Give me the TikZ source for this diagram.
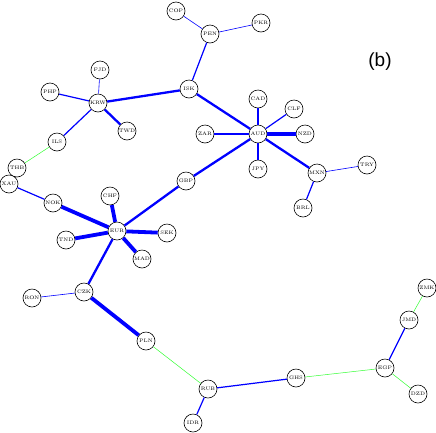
\documentclass[tikz,border=0pt]{standalone}
\usepackage{fontspec}
\newfontfamily\lblfont{Liberation Sans}
\begin{document}
\begin{tikzpicture}[x=1pt,y=-1pt,
  cur/.style={circle,draw=black,line width=0.6pt,fill=white,minimum size=18pt,inner sep=0pt,font=\fontsize{5}{5}\selectfont},
  ea/.style={blue,line width=0.6pt},
  eb/.style={blue,line width=1.2pt},
  ec/.style={blue,line width=2.3pt},
  ed/.style={blue,line width=3.8pt},
  eg/.style={green!80!white,line width=0.5pt}]
\useasboundingbox (0,0) rectangle (436,432);
\node[cur] (COP) at (176,11) {COP};
\node[cur] (PEN) at (210,34) {PEN};
\node[cur] (PKR) at (261,23) {PKR};
\node[cur] (ISK) at (189,89) {ISK};
\node[cur] (FJD) at (100,70) {FJD};
\node[cur] (PHP) at (50,92) {PHP};
\node[cur] (KRW) at (98,103) {KRW};
\node[cur] (TWD) at (127,131) {TWD};
\node[cur] (ILS) at (57,142) {ILS};
\node[cur] (XAU) at (9,184) {XAU};
\node[cur] (THB) at (17,168) {THB};
\node[cur] (NOK) at (53,203) {NOK};
\node[cur] (CHF) at (110,196) {CHF};
\node[cur] (EUR) at (117,231) {EUR};
\node[cur] (SEK) at (167,233) {SEK};
\node[cur] (TND) at (66,240) {TND};
\node[cur] (MAD) at (142,259) {MAD};
\node[cur] (GBP) at (186,181) {GBP};
\node[cur] (CAD) at (258,99) {CAD};
\node[cur] (CLF) at (294,109) {CLF};
\node[cur] (ZAR) at (205,134) {ZAR};
\node[cur] (AUD) at (258,134) {AUD};
\node[cur] (NZD) at (305,134) {NZD};
\node[cur] (JPY) at (258,169) {JPY};
\node[cur] (MXN) at (317,173) {MXN};
\node[cur] (TRY) at (367,165) {TRY};
\node[cur] (BRL) at (303,208) {BRL};
\node[cur] (CZK) at (84,292) {CZK};
\node[cur] (RON) at (32,298) {RON};
\node[cur] (PLN) at (146,341) {PLN};
\node[cur] (RUB) at (208,389) {RUB};
\node[cur] (IDR) at (193,423) {IDR};
\node[cur] (GHS) at (296,378) {GHS};
\node[cur] (EGP) at (385,368) {EGP};
\node[cur] (DZD) at (418,394) {DZD};
\node[cur] (JMD) at (409,320) {JMD};
\node[cur] (ZMK) at (427,288) {ZMK};
\node[font=\lblfont\fontsize{19}{19}\selectfont] (lab) at (380,62) {(b)};
\draw[ea] (COP) -- (PEN);
\draw[ea] (PEN) -- (PKR);
\draw[eb] (PEN) -- (ISK);
\draw[ec] (ISK) -- (KRW);
\draw[ec] (ISK) -- (AUD);
\draw[ea] (KRW) -- (FJD);
\draw[eb] (KRW) -- (PHP);
\draw[ec] (KRW) -- (TWD);
\draw[eb] (KRW) -- (ILS);
\draw[eg] (ILS) -- (THB);
\draw[eb] (XAU) -- (NOK);
\draw[ed] (NOK) -- (EUR);
\draw[ed] (CHF) -- (EUR);
\draw[ed] (EUR) -- (SEK);
\draw[ed] (EUR) -- (TND);
\draw[ed] (EUR) -- (MAD);
\draw[ec] (EUR) -- (GBP);
\draw[ec] (EUR) -- (CZK);
\draw[ec] (GBP) -- (AUD);
\draw[ec] (AUD) -- (CAD);
\draw[eb] (AUD) -- (CLF);
\draw[eb] (AUD) -- (ZAR);
\draw[ed] (AUD) -- (NZD);
\draw[eb] (AUD) -- (JPY);
\draw[ec] (AUD) -- (MXN);
\draw[ea] (MXN) -- (TRY);
\draw[eb] (MXN) -- (BRL);
\draw[ea] (CZK) -- (RON);
\draw[ed] (CZK) -- (PLN);
\draw[eg] (PLN) -- (RUB);
\draw[eb] (RUB) -- (IDR);
\draw[eb] (RUB) -- (GHS);
\draw[eg] (GHS) -- (EGP);
\draw[eg] (EGP) -- (DZD);
\draw[eb] (EGP) -- (JMD);
\draw[eg] (JMD) -- (ZMK);
\end{tikzpicture}
\end{document}
